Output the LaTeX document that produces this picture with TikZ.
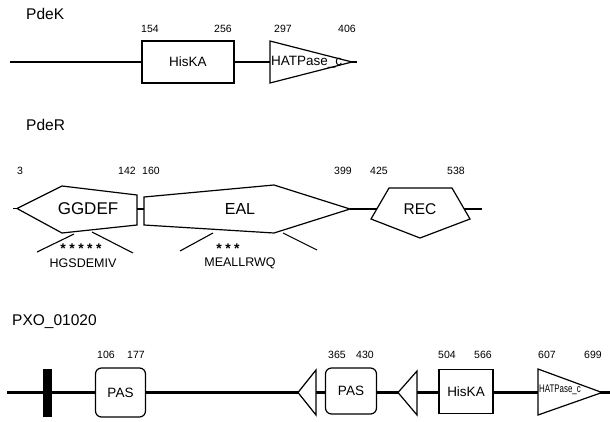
\documentclass[tikz,border=0pt]{standalone}
\usepackage{fontspec}
\setmainfont{Liberation Sans}
\begin{document}
\begin{tikzpicture}[x=1pt,y=-1pt,
  bb/.style={line width=2.2pt},
  dom/.style={draw, line width=1.2pt, fill=white, line join=miter},
  title/.style={anchor=west, inner sep=0pt, font=\fontsize{15.5}{17}\selectfont},
  num/.style={inner sep=0pt, font=\fontsize{10.5}{12}\selectfont},
  dtext/.style={inner sep=0pt, font=\fontsize{13.5}{15}\selectfont},
  bigtext/.style={inner sep=0pt, font=\fontsize{17}{19}\selectfont},
  motif/.style={inner sep=0pt, font=\fontsize{12.5}{14}\selectfont},
  stars/.style={inner sep=0pt, font=\fontsize{14}{15}\selectfont\bfseries},
  thin/.style={line width=1.1pt}]
\useasboundingbox (0,0) rectangle (610,421);

% ---------------- PdeK ----------------
\node[title] (tK) at (26,14) {PdeK};
\coordinate (k0) at (10,62);
\coordinate (k1) at (270,62);
\coordinate (kEnd) at (357,62);
\node[dom, rectangle, minimum width=92pt, minimum height=42pt, inner sep=0pt, dtext] (kHis) at (188,62) {HisKA};
\draw[bb] (k0) -- (kHis.west);
\draw[bb] (kHis.east) -- (k1);
\draw[bb] (340,62) -- (kEnd);
\draw[dom] (270,41) -- (352,62) -- (270,83) -- cycle;
\node[dtext, anchor=west] (kHAT) at (271,62) {HATPase\_c};
\node[num] (n154) at (150,29) {154};
\node[num] (n256) at (223,29) {256};
\node[num] (n297) at (283,29) {297};
\node[num] (n406) at (347,29) {406};

% ---------------- PdeR ----------------
\node[title] (tR) at (26,125) {PdeR};
\node[num] (n3) at (20,171) {3};
\node[num] (n142) at (127,171) {142};
\node[num] (n160) at (151,171) {160};
\node[num] (n399) at (343,171) {399};
\node[num] (n425) at (379,171) {425};
\node[num] (n538) at (456,171) {538};

\draw[thin] (13,208.5) -- (17,208.5);
\draw[dom] (17,208.5) -- (62,186) -- (137,195) -- (137,225) -- (62,233) -- cycle;
\node[bigtext] (gg) at (88,209) {GGDEF};
\draw[thin] (137,209) -- (144,209);
\draw[dom] (144,197) -- (274,185) -- (350,209) -- (274,233) -- (144,225) -- cycle;
\node[bigtext, font=\fontsize{16}{18}\selectfont] (eal) at (240,209) {EAL};
\draw[thin] (350,209) -- (380,209);
\draw[thin] (460,209) -- (482,209);
\draw[dom] (389,188) -- (452,188) -- (470,219) -- (420,238) -- (371,219) -- cycle;
\node[dtext, font=\fontsize{15.5}{17}\selectfont] (rec) at (420,209) {REC};

\draw[thin] (37,252) -- (74,234);
\draw[thin] (92,232) -- (133,253);
\node[stars] (st1) at (81,249) {*\kern3.5pt*\kern3.5pt*\kern3.5pt*\kern3.5pt*};
\node[motif] (m1) at (83,263) {HGSDEMIV};
\draw[thin] (180,251) -- (213,233);
\draw[thin] (283,233) -- (317,250);
\node[stars] (st2) at (228,249) {*\kern3.5pt*\kern3.5pt*};
\node[motif] (m2) at (240,263) {MEALLRWQ};

% ---------------- PXO_01020 ----------------
\node[title] (tP) at (12,322) {PXO\_01020};
\coordinate (p0) at (7,392.5);
\coordinate (pEnd) at (610,392.5);
\draw[bb] (p0) -- (pEnd);
\fill (43,369) rectangle (52,417);
\node[num] (n106) at (106,355) {106};
\node[num] (n177) at (136,355) {177};
\node[dom, rectangle, rounded corners=6pt, minimum width=50pt, minimum height=49pt, inner sep=0pt, dtext] (pas1) at (120.5,392.5) {PAS};
\draw[dom] (298,392.5) -- (316,370) -- (316,415) -- cycle;
\node[num] (n365) at (337,355) {365};
\node[num] (n430) at (365,355) {430};
\node[dom, rectangle, rounded corners=6pt, minimum width=51pt, minimum height=46pt, inner sep=0pt, dtext] (pas2) at (351,391) {PAS};
\draw[dom] (398,392.5) -- (417,371) -- (417,415) -- cycle;
\node[num] (n504) at (447,355) {504};
\node[num] (n566) at (483,355) {566};
\node[dom, rectangle, minimum width=54pt, minimum height=44pt, inner sep=0pt, dtext] (pHis) at (466,391.5) {HisKA};
\node[num] (n607) at (547,355) {607};
\node[num] (n699) at (593,355) {699};
\draw[dom] (538,369) -- (602,392.5) -- (538,415) -- cycle;
\node[inner sep=0pt, anchor=west, font=\fontsize{11}{12}\selectfont, xscale=0.72] (pHAT) at (539,390) {HATPase\_c};
\end{tikzpicture}
\end{document}
